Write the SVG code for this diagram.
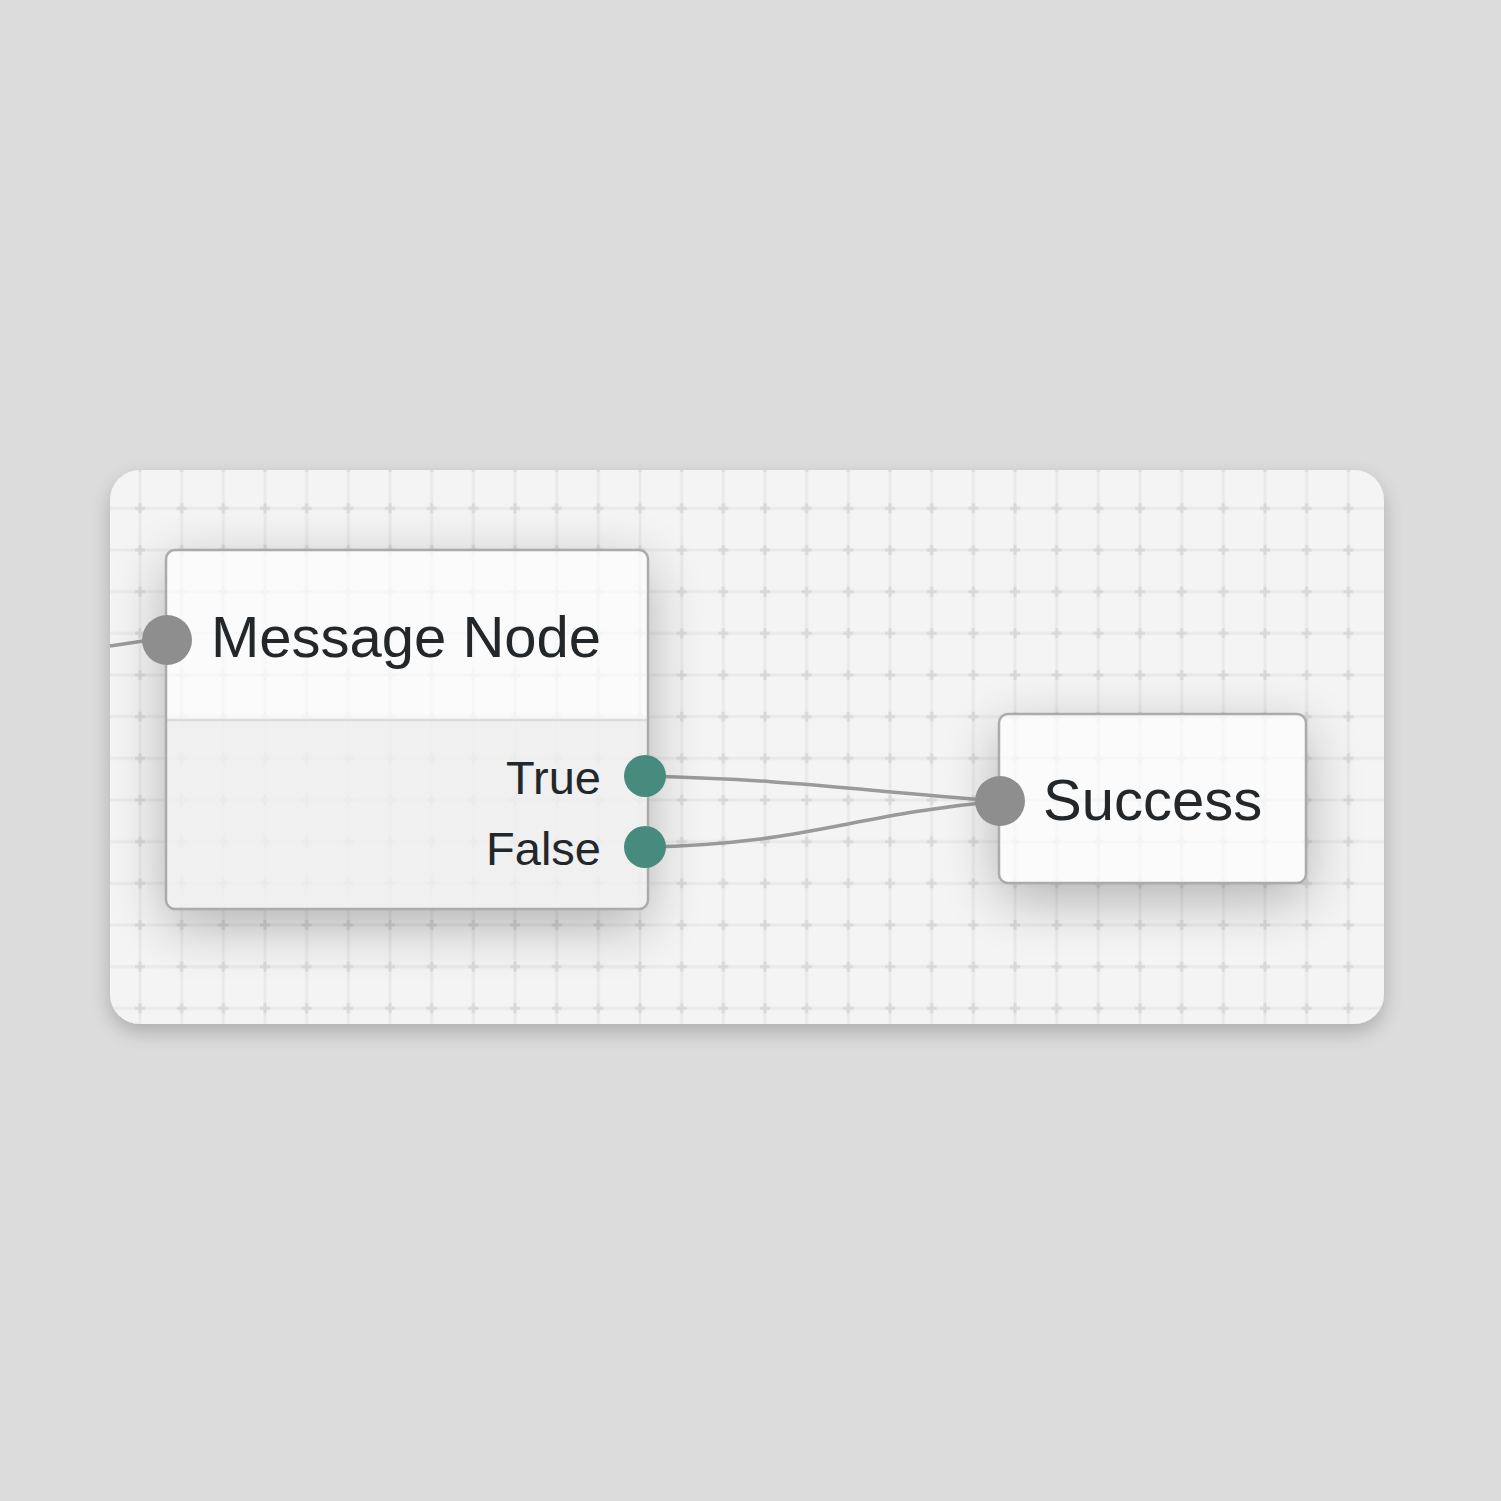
<svg xmlns="http://www.w3.org/2000/svg" width="1501" height="1501" viewBox="0 0 1501 1501">
<defs>
<filter id="panelShadow" x="-10%" y="-10%" width="120%" height="130%">
<feGaussianBlur in="SourceAlpha" stdDeviation="10"/>
<feOffset dy="8"/>
<feComponentTransfer><feFuncA type="linear" slope="0.22"/></feComponentTransfer>
<feMerge><feMergeNode/><feMergeNode in="SourceGraphic"/></feMerge>
</filter>
<filter id="nodeShadow" x="-40%" y="-40%" width="180%" height="190%">
<feGaussianBlur in="SourceAlpha" stdDeviation="28"/>
<feOffset dy="16"/>
<feComponentTransfer><feFuncA type="linear" slope="0.28"/></feComponentTransfer>
<feMerge><feMergeNode/><feMergeNode in="SourceGraphic"/></feMerge>
</filter>
<pattern id="grid" x="119.167" y="487.5" width="41.667" height="41.667" patternUnits="userSpaceOnUse">
<rect x="19.333" y="0" width="3" height="41.667" fill="#e9e9e9"/>
<rect x="0" y="19.333" width="41.667" height="3" fill="#e9e9e9"/>
<rect x="15.833" y="19.333" width="10" height="3" fill="#d8d8d8"/>
<rect x="19.333" y="15.833" width="3" height="10" fill="#d8d8d8"/>
</pattern>
<clipPath id="panelClip"><rect x="110" y="470" width="1274" height="554" rx="30"/></clipPath>
</defs>
<style>
.label{font-family:"Liberation Sans",Arial,sans-serif;fill:#23272a}
.title{font-size:58px}
.port-label{font-size:47px}
.node-border{stroke:#ababab;stroke-width:2.5}
.in-port{fill:#8e8e8e}
.out-port{fill:#468b7d}
.edge{fill:none;stroke:#9a9a9a;stroke-width:3.5}
</style>
<rect width="1501" height="1501" fill="#dcdcdc"/>
<g id="panel">
<rect x="110" y="470" width="1274" height="554" rx="30" fill="#f4f4f4" filter="url(#panelShadow)"/>
<rect x="110" y="470" width="1274" height="554" rx="30" fill="url(#grid)" clip-path="url(#panelClip)"/>
</g>
<g id="connectors">
<path class="edge" d="M110 646 L150 640"/>
<path class="edge" d="M645 776 C 800 780, 850 790, 1000 801"/>
<path class="edge" d="M645 847 C 800 845, 850 815, 1000 801"/>
</g>
<g id="node-message">
<rect x="166" y="550" width="482" height="359" rx="9" fill="#f0f0f0" filter="url(#nodeShadow)"/>
<path d="M175 550 H639 A9 9 0 0 1 648 559 V720 H166 V559 A9 9 0 0 1 175 550 Z" fill="#fbfbfb"/>
<rect x="166" y="550" width="482" height="359" rx="9" fill="url(#grid)" opacity="0.2"/>
<line x1="166" y1="720" x2="648" y2="720" stroke="#dcdcdc" stroke-width="2.5"/>
<rect x="166" y="550" width="482" height="359" rx="9" fill="none" class="node-border"/>
<circle class="in-port" cx="167" cy="640" r="25"/>
<text class="label title" x="211" y="657">Message Node</text>
<text class="label port-label" x="601" y="794" text-anchor="end">True</text>
<text class="label port-label" x="601" y="865" text-anchor="end">False</text>
<circle class="out-port" cx="645" cy="776" r="21"/>
<circle class="out-port" cx="645" cy="847" r="21"/>
</g>
<g id="node-success">
<rect x="999" y="714" width="307" height="169" rx="9" fill="#fbfbfb" filter="url(#nodeShadow)"/>
<rect x="999" y="714" width="307" height="169" rx="9" fill="url(#grid)" opacity="0.2"/>
<rect x="999" y="714" width="307" height="169" rx="9" fill="none" class="node-border"/>
<circle class="in-port" cx="1000" cy="801" r="25"/>
<text class="label title" x="1043" y="820">Success</text>
</g>
</svg>
